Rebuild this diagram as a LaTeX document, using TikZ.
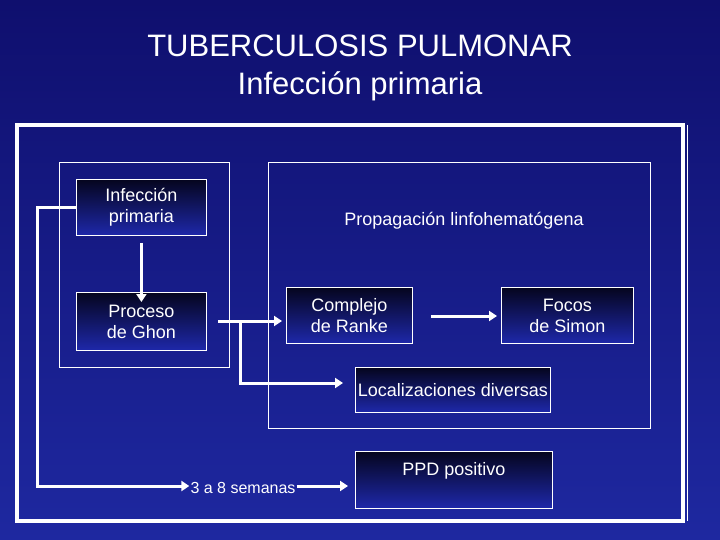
\documentclass[tikz,border=0pt]{standalone}
\usepackage{fontspec}
\setmainfont{Liberation Sans}
\usetikzlibrary{arrows.meta}
\definecolor{bgA}{RGB}{15,15,110}
\definecolor{bgB}{RGB}{30,40,160}
\definecolor{boxtop}{RGB}{5,5,30}
\definecolor{boxbot}{RGB}{30,40,170}
\begin{document}
\begin{tikzpicture}[x=1pt,y=-1pt,
  gbox/.style={draw=white,line width=0.8pt,top color=boxtop,bottom color=boxbot,text=white,align=center,font=\fontsize{18}{21}\selectfont},
  grp/.style={draw=white,line width=0.8pt},
  arr/.style={draw=white,line width=3pt,-{Triangle[length=8pt,width=10pt]}},
  ln/.style={draw=white,line width=3pt}]
\useasboundingbox (0,0) rectangle (720,540);
\shade[top color=bgA,bottom color=bgB] (0,0) rectangle (720,540);
\node[text=white,align=center,font=\fontsize{31}{38}\selectfont] (title) at (360,68) {TUBERCULOSIS PULMONAR\\Infección primaria};
\draw[white,line width=4pt] (17,125) rectangle (683,521);
\draw[white,line width=0.8pt] (687,125) -- (687,521);
\node[grp,minimum width=170pt,minimum height=205pt,anchor=north west] (g1) at (59,162) {};
\node[grp,minimum width=382pt,minimum height=266pt,anchor=north west] (g2) at (268,162) {};
\node[gbox,minimum width=130pt,minimum height=56pt,anchor=north west] (inf) at (76,179) {Infección\\primaria};
\node[gbox,minimum width=130pt,minimum height=58pt,anchor=north west] (gho) at (76,292) {Proceso\\de Ghon};
\node[gbox,minimum width=126pt,minimum height=56pt,anchor=north west] (ran) at (286,287) {Complejo\\de Ranke};
\node[gbox,minimum width=132pt,minimum height=56pt,anchor=north west] (sim) at (501,287) {Focos\\de Simon};
\node[gbox,minimum width=195pt,minimum height=45pt,anchor=north west,inner xsep=2pt] (loc) at (355,367) {Localizaciones diversas};
\node[gbox,minimum width=197pt,minimum height=57pt,anchor=north west,text depth=22pt] (ppd) at (355,451) {PPD positivo};
\node[text=white,font=\fontsize{18}{21}\selectfont] (prop) at (464,221) {Propagación linfohematógena};
\node[text=white,font=\fontsize{16}{19}\selectfont,inner sep=1pt] (sem) at (243,488) {3 a 8 semanas};
\draw[arr] (inf.south) ++(0,7) -- ([yshift=-10pt]gho.north);
\coordinate (c1) at (37,208);
\coordinate (c2) at (37,486);
\draw[arr] (inf.west |- c1) -- (c1) -- (c2) -- (sem.west |- c2);
\draw[arr] (sem.east |- c2) -- ([xshift=-7pt]ppd.west |- c2);
\coordinate (s) at (218,321);
\coordinate (b) at (240,321);
\draw[arr] (s) -- ([xshift=-4pt]ran.west |- s);
\draw[arr] (b) -- (240,383) -- ([xshift=-12pt]loc.west |- 0,383);
\draw[arr] ([xshift=18pt]ran.east |- 0,316) -- ([xshift=-4pt]sim.west |- 0,316);
\end{tikzpicture}
\end{document}
